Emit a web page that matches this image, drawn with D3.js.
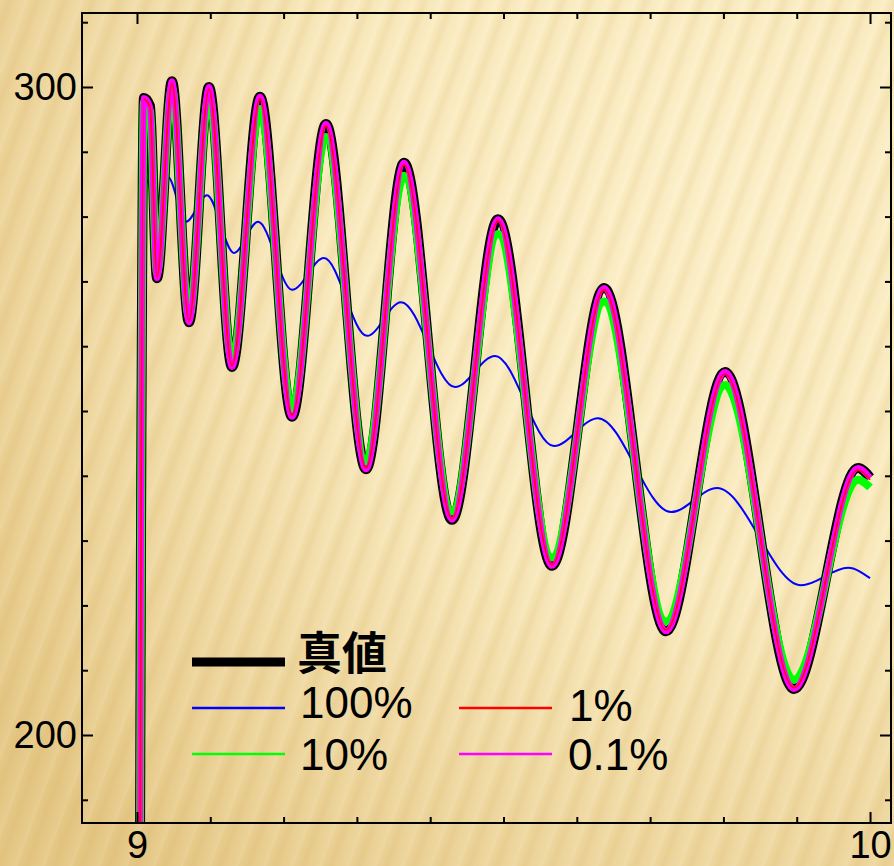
<!DOCTYPE html>
<html>
<head>
<meta charset="utf-8">
<script src="https://cdn.jsdelivr.net/npm/d3@7/dist/d3.min.js"></script>
<style>
  html, body { margin: 0; padding: 0; }
  body { width: 894px; height: 866px; overflow: hidden; }
  svg { display: block; }
</style>
</head>
<body>
<div id="chart"></div>
<script>
// Damped oscillation: true values and estimates at several noise levels
const xMain   = [9.0, 9.0095, 9.0177, 9.0273, 9.0477, 9.0709, 9.0982, 9.1296, 9.1678, 9.2115, 9.2578,
                 9.3124, 9.3643, 9.4297, 9.4925, 9.5662, 9.6371, 9.7217, 9.8022, 9.8963, 9.9836, 10.0];
const yTrue   = [0, 298.3, 297.1, 270.5, 300.9, 263.7, 300.0, 256.8, 298.5, 249.1, 294.3,
                 241.0, 288.3, 233.2, 279.6, 226.1, 269.0, 216.0, 256.0, 207.1, 241.2, 239.7];
const yPct01  = [0, 298.3, 297.0, 270.5, 300.9, 263.7, 300.0, 256.8, 298.5, 249.1, 294.3,
                 241.0, 288.3, 233.2, 279.6, 226.1, 269.0, 216.0, 256.0, 207.1, 241.2, 239.7];
const yPct1   = [0, 298.1, 296.9, 270.7, 300.6, 263.9, 299.7, 257.0, 298.2, 249.3, 294.0,
                 241.2, 288.0, 233.4, 279.3, 226.3, 268.7, 216.2, 255.7, 207.3, 240.9, 239.4];
const yPct10  = [0, 297.6, 296.3, 271.3, 299.8, 264.5, 298.6, 257.8, 296.6, 250.3, 292.3,
                 242.2, 286.3, 234.5, 277.3, 227.4, 266.9, 217.5, 254.0, 208.5, 239.4, 238.2];
const xPct100 = [9.0, 9.0109, 9.0273, 9.0423, 9.0668, 9.0955, 9.1323, 9.1651, 9.2115, 9.2551, 9.3138,
                 9.3602, 9.4338, 9.4884, 9.5689, 9.6289, 9.7285, 9.7913, 9.9059, 9.9700, 10.0];
const yPct100 = [0, 286.0, 282.1, 286.1, 279.2, 283.3, 274.4, 279.2, 268.7, 273.6, 261.6,
                 266.8, 253.7, 258.5, 244.6, 248.9, 234.4, 238.1, 223.1, 225.8, 224.2];

const xTickValues = [9.0, 9.1, 9.2, 9.3, 9.4, 9.5, 9.6, 9.7, 9.8, 9.9, 10.0];
const xTickLabels = [9, 10];
const yTickValues = [190, 200, 210, 220, 230, 240, 250, 260, 270, 280, 290, 300, 310];
const yTickLabels = [200, 300];

const legendLabels = ["真値", "100%", "10%", "1%", "0.1%"];

const W = 894, H = 866;
const frame = { left: 82, right: 891, top: 13, bottom: 823 };

const svg = d3.select("#chart").append("svg")
  .attr("width", W).attr("height", H);

const defs = svg.append("defs");

// Warm backdrop: radial wash plus soft diagonal stripes
const bg = defs.append("radialGradient").attr("id", "bgWash")
  .attr("gradientUnits", "userSpaceOnUse")
  .attr("cx", 720).attr("cy", 180).attr("r", 900);
bg.append("stop").attr("offset", "0").attr("stop-color", "#fdf1cb");
bg.append("stop").attr("offset", "0.45").attr("stop-color", "#faebc0");
bg.append("stop").attr("offset", "1").attr("stop-color", "#e6c988");

const stripeGrad = defs.append("linearGradient").attr("id", "stripeGrad")
  .attr("x1", 0).attr("x2", 1).attr("y1", 0).attr("y2", 0);
stripeGrad.append("stop").attr("offset", "0").attr("stop-color", "#c9a04a").attr("stop-opacity", 0);
stripeGrad.append("stop").attr("offset", "0.35").attr("stop-color", "#c9a04a").attr("stop-opacity", 0.17);
stripeGrad.append("stop").attr("offset", "0.6").attr("stop-color", "#c9a04a").attr("stop-opacity", 0.04);
stripeGrad.append("stop").attr("offset", "1").attr("stop-color", "#ffffff").attr("stop-opacity", 0.1);

const pattern = defs.append("pattern").attr("id", "stripes")
  .attr("patternUnits", "userSpaceOnUse")
  .attr("width", 26).attr("height", 40)
  .attr("patternTransform", "rotate(20)");
pattern.append("rect").attr("width", 26).attr("height", 40).attr("fill", "url(#stripeGrad)");

svg.append("rect").attr("width", W).attr("height", H).attr("fill", "url(#bgWash)");
svg.append("rect").attr("width", W).attr("height", H).attr("fill", "url(#stripes)");

defs.append("clipPath").attr("id", "plotClip")
  .append("rect")
  .attr("x", frame.left).attr("y", frame.top)
  .attr("width", frame.right - frame.left).attr("height", frame.bottom - frame.top);

// Scales
const x = d3.scaleLinear().domain([8.925, 10.0286]).range([frame.left, frame.right]);
const y = d3.scaleLinear().domain([186.42, 311.42]).range([frame.bottom, frame.top]);

// Series, drawn bottom to top
const series = [
  { xs: xPct100, ys: yPct100, color: "#0000ff", width: 2 },
  { xs: xMain,   ys: yTrue,   color: "#000000", width: 10 },
  { xs: xMain,   ys: yPct10,  color: "#00ff00", width: 8 },
  { xs: xMain,   ys: yPct01,  color: "#ff00ff", width: 6 },
  { xs: xMain,   ys: yPct1,   color: "#ff0000", width: 1.6 }
];

const line = d3.line()
  .x(d => x(d[0]))
  .y(d => y(d[1]))
  .curve(d3.curveMonotoneX);

const plot = svg.append("g").attr("clip-path", "url(#plotClip)");
series.forEach(s => {
  plot.append("path")
    .datum(s.xs.map((v, i) => [v, s.ys[i]]))
    .attr("fill", "none")
    .attr("stroke", s.color)
    .attr("stroke-width", s.width)
    .attr("stroke-linejoin", "miter")
    .attr("stroke-linecap", "butt")
    .attr("d", line);
});

// Axes: inward ticks on all four sides
const fontFamily = "'Liberation Sans', Arial, sans-serif";

function styleAxis(g) {
  g.select(".domain").remove();
  g.selectAll(".tick line").attr("stroke", "#000").attr("stroke-width", 2);
  g.selectAll(".tick text").attr("fill", "#000")
    .attr("font-family", fontFamily).attr("font-size", 38);
}

const minorX = xTickValues.filter(v => !xTickLabels.some(t => Math.abs(t - v) < 1e-9));
const minorY = yTickValues.filter(v => !yTickLabels.includes(v));

// bottom
svg.append("g").attr("transform", `translate(0,${frame.bottom})`)
  .call(d3.axisBottom(x).tickValues(minorX).tickSize(-6).tickFormat(""))
  .call(styleAxis);
svg.append("g").attr("transform", `translate(0,${frame.bottom})`)
  .call(d3.axisBottom(x).tickValues(xTickLabels).tickSize(-11).tickPadding(8).tickFormat(d3.format("d")))
  .call(styleAxis);
// top
svg.append("g").attr("transform", `translate(0,${frame.top})`)
  .call(d3.axisTop(x).tickValues(minorX).tickSize(-6).tickFormat(""))
  .call(styleAxis);
svg.append("g").attr("transform", `translate(0,${frame.top})`)
  .call(d3.axisTop(x).tickValues(xTickLabels).tickSize(-11).tickFormat(""))
  .call(styleAxis);
// left
svg.append("g").attr("transform", `translate(${frame.left},0)`)
  .call(d3.axisLeft(y).tickValues(minorY).tickSize(-6).tickFormat(""))
  .call(styleAxis);
svg.append("g").attr("transform", `translate(${frame.left},0)`)
  .call(d3.axisLeft(y).tickValues(yTickLabels).tickSize(-11).tickPadding(5).tickFormat(d3.format("d")))
  .call(styleAxis);
// right
svg.append("g").attr("transform", `translate(${frame.right},0)`)
  .call(d3.axisRight(y).tickValues(minorY).tickSize(-6).tickFormat(""))
  .call(styleAxis);
svg.append("g").attr("transform", `translate(${frame.right},0)`)
  .call(d3.axisRight(y).tickValues(yTickLabels).tickSize(-11).tickFormat(""))
  .call(styleAxis);

// frame
svg.append("rect")
  .attr("x", frame.left).attr("y", frame.top)
  .attr("width", frame.right - frame.left).attr("height", frame.bottom - frame.top)
  .attr("fill", "none").attr("stroke", "#000").attr("stroke-width", 2);

// Legend
const legend = svg.append("g");
const legendItems = [
  { label: legendLabels[0], color: "#000000", width: 9, x: 192, y: 662, tx: 297, ty: 670, size: 45, bold: true },
  { label: legendLabels[1], color: "#0000ff", width: 2.5, x: 192, y: 708, tx: 300, ty: 718, size: 44 },
  { label: legendLabels[2], color: "#00ff00", width: 2.5, x: 192, y: 754, tx: 300, ty: 770, size: 44 },
  { label: legendLabels[3], color: "#ff0000", width: 2.5, x: 459, y: 708, tx: 569, ty: 721, size: 44 },
  { label: legendLabels[4], color: "#ff00ff", width: 2.5, x: 459, y: 754, tx: 568, ty: 770, size: 44 }
];
legendItems.forEach(it => {
  legend.append("line")
    .attr("x1", it.x).attr("x2", it.x + 93)
    .attr("y1", it.y).attr("y2", it.y)
    .attr("stroke", it.color).attr("stroke-width", it.width);
  legend.append("text")
    .attr("x", it.tx).attr("y", it.ty)
    .attr("font-family", it.bold ? "'Noto Sans CJK JP', sans-serif" : fontFamily)
    .attr("font-weight", it.bold ? 700 : 400)
    .attr("font-size", it.size)
    .attr("fill", "#000")
    .text(it.label);
});
</script>
</body>
</html>
